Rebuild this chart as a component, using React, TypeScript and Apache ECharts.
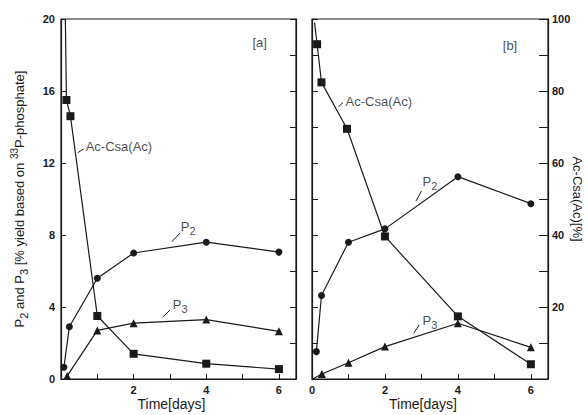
import React, { useEffect, useRef } from "react";
import * as echarts from "echarts";

// Panel [a] (left scale, % yield)
const acA_t = [0.12, 0.15, 0.26, 1, 2, 4, 6];
const acA_v = [20, 15.5, 14.6, 3.5, 1.4, 0.85, 0.55];
const p2A_t = [0.08, 0.23, 1, 2, 4, 6];
const p2A_v = [0.65, 2.9, 5.6, 7.0, 7.6, 7.05];
const p3A_t = [0.17, 1, 2, 4, 6];
const p3A_v = [0.17, 2.7, 3.1, 3.3, 2.65];

// Panel [b] (right scale, %)
const acB_t = [0.07, 0.14, 0.26, 0.96, 2, 4, 6];
const acB_v = [99, 93, 82.4, 69.5, 39.6, 17.4, 4.1];
const p2B_t = [0.12, 0.26, 1, 2, 4, 6];
const p2B_v = [7.6, 23.2, 38, 41.7, 56.2, 48.7];
const p3B_t = [0.02, 0.27, 1, 2, 4, 6];
const p3B_v = [0, 1.4, 4.5, 9.0, 15.5, 8.8];

const leftTicks = [0, 4, 8, 12, 16, 20];
const rightTicks = [20, 40, 60, 80, 100];
const dayTicks = [0, 2, 4, 6];

const INK = "#1a1a1a";
const FONT = "Liberation Sans, Arial, sans-serif";

function pts(t: number[], v: number[], hideFirst = false) {
  return t.map((x, i) =>
    hideFirst && i === 0 ? { value: [x, v[i]], symbol: "none" } : { value: [x, v[i]] }
  );
}

const richSub = {
  s: { fontSize: 11, fontFamily: FONT, color: INK, verticalAlign: "bottom", lineHeight: 11 },
  u: { fontSize: 10, fontFamily: FONT, color: INK, verticalAlign: "top", lineHeight: 10 },
};

export default function App() {
  const ref = useRef<HTMLDivElement>(null);
  useEffect(() => {
    if (!ref.current) return;
    const chart = echarts.init(ref.current, undefined, { renderer: "svg" });
    const lineSeries = (
      xi: number,
      yi: number,
      data: any[],
      symbol: string,
      size: number
    ) => ({
      type: "line",
      xAxisIndex: xi,
      yAxisIndex: yi,
      data,
      symbol,
      symbolSize: size,
      showAllSymbol: true,
      itemStyle: { color: INK },
      lineStyle: { color: INK, width: 1.2 },
      z: 3,
    });
    const label = (
      xi: number,
      yi: number,
      items: { pos: number[]; text: string }[],
      leaders: number[][][]
    ) => ({
      type: "scatter",
      xAxisIndex: xi,
      yAxisIndex: yi,
      symbolSize: 0,
      silent: true,
      itemStyle: { color: INK },
      data: items.map((it) => ({ value: it.pos, label: { formatter: it.text } })),
      label: {
        show: true,
        position: "right",
        distance: 0,
        color: INK,
        fontFamily: FONT,
        fontSize: 13,
        lineHeight: 20,
        rich: richSub,
      },
      markLine: {
        silent: true,
        symbol: "none",
        label: { show: false },
        lineStyle: { color: INK, width: 1, type: "solid" },
        data: leaders.map((l) => [{ coord: l[0] }, { coord: l[1] }]),
      },
    });
    const axisLabel = {
      color: INK,
      fontFamily: FONT,
      fontSize: 11,
      fontWeight: "bold",
    };
    const option: any = {
      animation: false,
      backgroundColor: "#ffffff",
      grid: [
        { left: 61, right: 292, top: 19, bottom: 36, show: true, borderColor: INK, borderWidth: 1.2, outerBoundsMode: "none" },
        { left: 312, right: 40, top: 19, bottom: 36, show: true, borderColor: INK, borderWidth: 1.2, outerBoundsMode: "none" },
      ],
      xAxis: [0, 1].map((g) => ({
        type: "value",
        gridIndex: g,
        min: 0,
        max: 6.47,
        interval: 1,
        name: "Time[days]",
        nameLocation: "middle",
        nameGap: 18,
        nameMoveOverlap: false,
        nameTextStyle: { color: INK, fontFamily: FONT, fontSize: 14, padding: [0, 14, 0, 0] },
        axisLine: { show: true, lineStyle: { color: INK, width: 1.2 } },
        axisTick: { show: true, inside: true, length: 5, lineStyle: { color: INK } },
        axisLabel: {
          ...axisLabel,
          margin: 5,
          showMaxLabel: false,
          formatter: (v: number) => (dayTicks.includes(v) && !(g === 0 && v === 0) ? String(v) : ""),
        },
        splitLine: { show: false },
      })),
      yAxis: [
        {
          type: "value",
          gridIndex: 0,
          position: "left",
          min: 0,
          max: 20,
          interval: 4,
          name: "P{s|2} and P{s|3} [% yield based on {u|33}P-phosphate]",
          nameLocation: "middle",
          nameGap: 32,
          nameRotate: 90,
          nameTextStyle: {
            color: INK,
            fontFamily: FONT,
            fontSize: 13,
            lineHeight: 20,
            rich: richSub,
          },
          axisLine: { show: true, lineStyle: { color: INK, width: 1.2 } },
          axisTick: { show: true, inside: true, length: 5, lineStyle: { color: INK } },
          axisLabel: {
            ...axisLabel,
            margin: 6,
            formatter: (v: number) => (leftTicks.includes(v) ? String(v) : ""),
          },
          splitLine: { show: false },
        },
        {
          type: "value",
          gridIndex: 0,
          position: "right",
          min: 0,
          max: 20,
          interval: 2,
          axisLine: { show: true, lineStyle: { color: INK, width: 1.2 } },
          axisTick: { show: true, inside: true, length: 6, lineStyle: { color: INK } },
          axisLabel: { show: false },
          splitLine: { show: false },
        },
        {
          type: "value",
          gridIndex: 1,
          position: "left",
          min: 0,
          max: 100,
          interval: 10,
          axisLine: { show: true, lineStyle: { color: INK, width: 1.2 } },
          axisTick: { show: true, inside: true, length: 6, lineStyle: { color: INK } },
          axisLabel: { show: false },
          splitLine: { show: false },
        },
        {
          type: "value",
          gridIndex: 1,
          position: "right",
          min: 0,
          max: 100,
          interval: 10,
          name: "Ac-Csa(Ac)[%]",
          nameLocation: "middle",
          nameGap: 23,
          nameMoveOverlap: false,
          nameRotate: -90,
          nameTextStyle: { color: INK, fontFamily: FONT, fontSize: 13 },
          axisLine: { show: true, lineStyle: { color: INK, width: 1.2 } },
          axisTick: { show: true, inside: true, length: 9, lineStyle: { color: INK } },
          axisLabel: {
            ...axisLabel,
            margin: 4,
            formatter: (v: number) => (rightTicks.includes(v) ? String(v) : ""),
          },
          splitLine: { show: false },
        },
      ],
      series: [
        lineSeries(0, 0, pts(acA_t, acA_v, true), "rect", 8),
        lineSeries(0, 0, pts(p2A_t, p2A_v), "circle", 7),
        lineSeries(0, 0, pts(p3A_t, p3A_v), "triangle", 8),
        lineSeries(1, 3, pts(acB_t, acB_v, true), "rect", 8),
        lineSeries(1, 3, pts(p2B_t, p2B_v), "circle", 7),
        lineSeries(1, 3, pts(p3B_t, p3B_v, true), "triangle", 8),
        label(
          0,
          0,
          [
            { pos: [0.68, 12.9], text: "Ac-Csa(Ac)" },
            { pos: [3.3, 8.5], text: "P{s|2}" },
            { pos: [3.08, 4.15], text: "P{s|3}" },
            { pos: [5.27, 18.67], text: "[a]" },
          ],
          [
            [[0.46, 12.57], [0.62, 12.78]],
            [[3.05, 7.63], [3.28, 8.11]],
            [[2.8, 3.43], [3.0, 3.83]],
          ]
        ),
        label(
          1,
          3,
          [
            { pos: [0.92, 77.2], text: "Ac-Csa(Ac)" },
            { pos: [3.03, 55.0], text: "P{s|2}" },
            { pos: [3.03, 16.2], text: "P{s|3}" },
            { pos: [5.23, 92.6], text: "[b]" },
          ],
          [
            [[0.73, 75.7], [0.85, 76.8]],
            [[2.85, 49.4], [3.0, 52.2]],
            [[2.79, 12.7], [2.94, 15.0]],
          ]
        ),
      ],
    };
    chart.setOption(option);
    return () => chart.dispose();
  }, []);
  return (
    <div
      ref={ref}
      style={{ position: "absolute", left: 0, top: 0, width: 588, height: 415 }}
    />
  );
}
